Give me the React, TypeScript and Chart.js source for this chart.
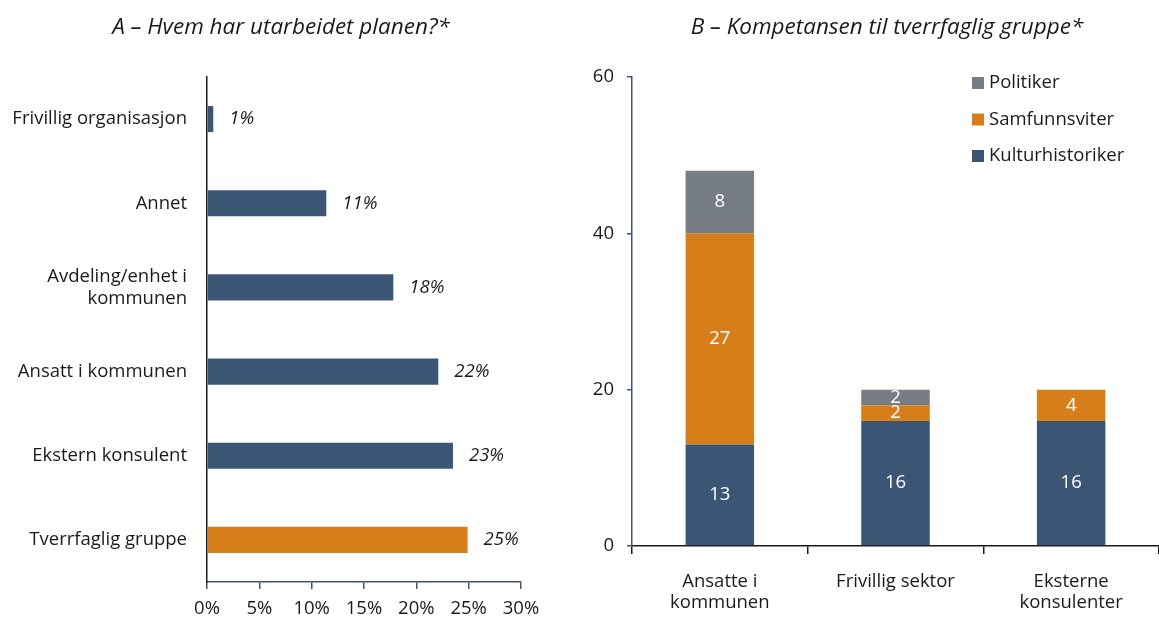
import React, { useEffect, useRef } from 'react';
import { Chart, registerables } from 'chart.js';

Chart.register(...registerables);

// ---------- Data ----------
const planCategories = [
  'Frivillig organisasjon',
  'Annet',
  ['Avdeling/enhet i', 'kommunen'],
  'Ansatt i kommunen',
  'Ekstern konsulent',
  'Tverrfaglig gruppe',
];
const planValues = [0.6, 11.4, 17.8, 22.1, 23.5, 24.9];
const planLabels = ['1%', '11%', '18%', '22%', '23%', '25%'];
const planTickStep = 5;
const planMax = 30;

const groupCategories = [['Ansatte i', 'kommunen'], 'Frivillig sektor', ['Eksterne', 'konsulenter']];
const kulturhistoriker = [13, 16, 16];
const samfunnsviter = [27, 2, 4];
const politiker = [8, 2, 0];
const groupTickStep = 20;
const groupMax = 60;

const titleA = 'A – Hvem har utarbeidet planen?*';
const titleB = 'B – Kompetansen til tverrfaglig gruppe*';

// ---------- Styles ----------
const FONT = '"Open Sans", Lato, sans-serif';
const FS = 18.5;
const BLUE = '#3b5675';
const ORANGE = '#d67f1a';
const GRAY = '#767d85';
const BLACK = '#1a1a1a';

const titlePlugin = {
  id: 'freeTitle',
  afterDraw(chart: any, _args: any, opts: any) {
    if (!opts || !opts.text) return;
    const ctx = chart.ctx;
    ctx.save();
    ctx.font = `italic 22.5px ${FONT}`;
    ctx.fillStyle = BLACK;
    ctx.textAlign = 'center';
    ctx.textBaseline = 'middle';
    ctx.fillText(opts.text, opts.x, opts.y);
    ctx.restore();
  },
};

const barEndLabels = {
  id: 'barEndLabels',
  afterDatasetsDraw(chart: any, _args: any, opts: any) {
    if (!opts || !opts.labels) return;
    const ctx = chart.ctx;
    const meta = chart.getDatasetMeta(0);
    ctx.save();
    ctx.font = `italic ${FS}px ${FONT}`;
    ctx.fillStyle = BLACK;
    ctx.textAlign = 'left';
    ctx.textBaseline = 'middle';
    meta.data.forEach((el: any, i: number) => {
      ctx.fillText(opts.labels[i], el.x + 16, el.y);
    });
    ctx.restore();
  },
};

const segmentLabels = {
  id: 'segmentLabels',
  afterDatasetsDraw(chart: any, _args: any, opts: any) {
    if (!opts || !opts.enabled) return;
    const ctx = chart.ctx;
    ctx.save();
    ctx.font = `${FS}px ${FONT}`;
    ctx.fillStyle = '#ffffff';
    ctx.textAlign = 'center';
    ctx.textBaseline = 'middle';
    chart.data.datasets.forEach((ds: any, di: number) => {
      const meta = chart.getDatasetMeta(di);
      meta.data.forEach((el: any, i: number) => {
        const v = ds.data[i];
        if (!v) return;
        ctx.fillText(String(v), el.x, (el.y + el.base) / 2);
      });
    });
    ctx.restore();
  },
};

const boxLegend = {
  id: 'boxLegend',
  afterDraw(chart: any, _args: any, opts: any) {
    if (!opts || !opts.items) return;
    const ctx = chart.ctx;
    ctx.save();
    ctx.font = `${FS}px ${FONT}`;
    ctx.textAlign = 'left';
    ctx.textBaseline = 'middle';
    opts.items.forEach((it: any, i: number) => {
      const y = opts.y + i * opts.gap;
      ctx.fillStyle = it.color;
      ctx.fillRect(opts.x, y - 6, 12, 12);
      ctx.fillStyle = BLACK;
      ctx.fillText(it.label, opts.x + 17, y);
    });
    ctx.restore();
  },
};

function PlanChart() {
  const ref = useRef<HTMLCanvasElement>(null);
  useEffect(() => {
    if (!ref.current) return;
    const chart = new Chart(ref.current, {
      type: 'bar',
      data: {
        labels: planCategories as any,
        datasets: [
          {
            data: planValues,
            backgroundColor: planValues.map((_, i) => (i === planValues.length - 1 ? ORANGE : BLUE)),
            barPercentage: 1,
            categoryPercentage: 0.31,
          },
        ],
      },
      options: {
        indexAxis: 'y',
        responsive: false,
        animation: false,
        layout: { padding: { top: 77, right: 39, left: 0, bottom: 0 } },
        plugins: {
          legend: { display: false },
          tooltip: { enabled: false },
          freeTitle: { text: titleA, x: 281, y: 28 },
          barEndLabels: { labels: planLabels },
        } as any,
        scales: {
          x: {
            min: 0,
            max: planMax,
            ticks: {
              stepSize: planTickStep,
              callback: (v: any) => v + '%',
              color: BLACK,
              font: { family: FONT, size: FS },
              padding: 9,
            },
            grid: { drawOnChartArea: false, drawTicks: true, tickLength: 7, color: BLUE, lineWidth: 1.5 },
            border: { display: true, color: BLUE, width: 1.5 },
            afterFit: (s: any) => {
              s.height = 37;
            },
          },
          y: {
            ticks: { color: BLACK, font: { family: FONT, size: FS, lineHeight: 1.2 }, padding: 20 },
            grid: { drawOnChartArea: false, drawTicks: false },
            border: { display: true, color: BLACK, width: 1.5 },
            afterFit: (s: any) => {
              s.width = 207;
            },
          },
        },
      } as any,
      plugins: [titlePlugin, barEndLabels],
    });
    return () => chart.destroy();
  }, []);
  return (
    <canvas
      ref={ref}
      width={560}
      height={619}
      style={{ position: 'absolute', left: 0, top: 0, width: 560, height: 619 }}
    />
  );
}

function GroupChart() {
  const ref = useRef<HTMLCanvasElement>(null);
  useEffect(() => {
    if (!ref.current) return;
    const common = { barPercentage: 1, categoryPercentage: 0.39 };
    const chart = new Chart(ref.current, {
      type: 'bar',
      data: {
        labels: groupCategories as any,
        datasets: [
          { label: 'Kulturhistoriker', data: kulturhistoriker, backgroundColor: BLUE, ...common },
          { label: 'Samfunnsviter', data: samfunnsviter, backgroundColor: ORANGE, ...common },
          { label: 'Politiker', data: politiker, backgroundColor: GRAY, ...common },
        ],
      },
      options: {
        responsive: false,
        animation: false,
        layout: { padding: { top: 77, right: 0, left: 0, bottom: 0 } },
        plugins: {
          legend: { display: false },
          tooltip: { enabled: false },
          freeTitle: { text: titleB, x: 307, y: 28 },
          segmentLabels: { enabled: true },
          boxLegend: {
            x: 392,
            y: 83,
            gap: 36.5,
            items: [
              { label: 'Politiker', color: GRAY },
              { label: 'Samfunnsviter', color: ORANGE },
              { label: 'Kulturhistoriker', color: BLUE },
            ],
          },
        } as any,
        scales: {
          x: {
            stacked: true,
            ticks: { color: BLACK, font: { family: FONT, size: FS, lineHeight: 1.15 }, padding: 17 },
            grid: { drawOnChartArea: false, drawTicks: true, tickLength: 8, color: BLACK, offset: true, lineWidth: 1.5 },
            border: { display: true, color: BLACK, width: 1.5 },
            afterFit: (s: any) => {
              s.height = 73;
            },
          },
          y: {
            stacked: true,
            min: 0,
            max: groupMax,
            ticks: { stepSize: groupTickStep, color: BLACK, font: { family: FONT, size: FS }, padding: 13 },
            grid: { drawOnChartArea: false, drawTicks: true, tickLength: 5, color: BLUE, lineWidth: 1.5 },
            border: { display: true, color: BLUE, width: 1.5 },
            afterFit: (s: any) => {
              s.width = 52;
            },
          },
        },
      } as any,
      plugins: [titlePlugin, segmentLabels, boxLegend],
    });
    return () => chart.destroy();
  }, []);
  return (
    <canvas
      ref={ref}
      width={579}
      height={619}
      style={{ position: 'absolute', left: 580, top: 0, width: 579, height: 619 }}
    />
  );
}

export default function App() {
  return (
    <div style={{ position: 'absolute', left: 0, top: 0, width: 1159, height: 619, background: '#fff' }}>
      <PlanChart />
      <GroupChart />
    </div>
  );
}
